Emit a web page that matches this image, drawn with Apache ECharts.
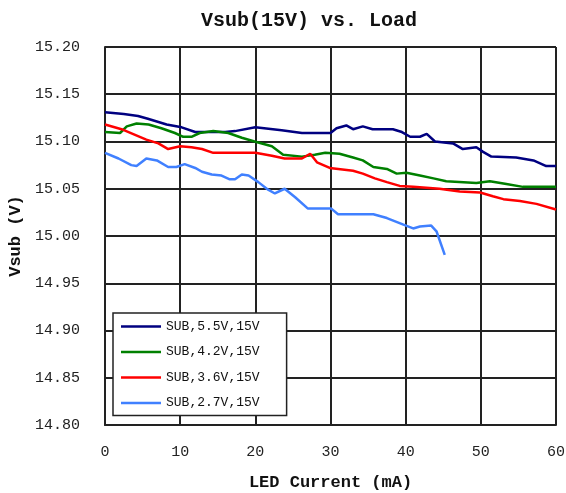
<!DOCTYPE html>
<html>
<head>
<meta charset="utf-8">
<script src="https://cdn.jsdelivr.net/npm/echarts@6/dist/echarts.min.js"></script>
<style>
  html, body { margin: 0; padding: 0; background: #fff; }
  #chart { width: 566px; height: 493px; }
</style>
</head>
<body>
<div id="chart"></div>
<script>
// LED current (mA) and substrate voltage (V) for each supply condition
const names = ['SUB,5.5V,15V', 'SUB,4.2V,15V', 'SUB,3.6V,15V', 'SUB,2.7V,15V'];
const colors = ['#000080', '#008000', '#ff0000', '#4080ff'];

const x55 = [0, 2.5, 4.4, 5.7, 8.2, 10.2, 12, 14, 16, 17.3, 20, 23.5, 26.2, 28.6, 30, 30.8, 32.1, 33, 34.3, 35.6, 38.3, 39.5, 40.6, 41.9, 42.8, 43.9, 46.3, 47.6, 49.4, 50.3, 51.4, 54.7, 57, 58.7, 60];
const v55 = [15.131, 15.129, 15.127, 15.124, 15.118, 15.115, 15.110, 15.110, 15.110, 15.111, 15.115, 15.112, 15.109, 15.109, 15.109, 15.114, 15.117, 15.113, 15.116, 15.113, 15.113, 15.110, 15.105, 15.105, 15.108, 15.100, 15.098, 15.092, 15.094, 15.089, 15.084, 15.083, 15.080, 15.074, 15.074];

const x42 = [0, 2, 2.9, 4.2, 5.8, 7.5, 9.3, 10.4, 11.5, 12.6, 14.4, 16.4, 18.2, 19.9, 22.2, 23.7, 26.2, 27.9, 29.3, 31.2, 33, 34.3, 35.7, 37.5, 38.8, 40.1, 41.9, 43.7, 45.4, 49.4, 51.2, 53.4, 55.6, 60];
const v42 = [15.110, 15.109, 15.116, 15.119, 15.118, 15.114, 15.109, 15.105, 15.105, 15.109, 15.111, 15.109, 15.104, 15.100, 15.095, 15.086, 15.084, 15.086, 15.088, 15.087, 15.083, 15.080, 15.073, 15.071, 15.066, 15.067, 15.064, 15.061, 15.058, 15.056, 15.058, 15.055, 15.052, 15.052];

const x36 = [0, 2.2, 4, 5.5, 7.1, 8.4, 10, 11.5, 12.9, 14.4, 20, 22.2, 23.9, 26.2, 27.3, 28.2, 29.9, 33, 34.3, 35.9, 37.5, 39.2, 41, 44.5, 47.2, 49.9, 51.6, 53, 55.2, 57.4, 60];
const v36 = [15.118, 15.113, 15.107, 15.102, 15.098, 15.092, 15.095, 15.094, 15.092, 15.088, 15.088, 15.085, 15.082, 15.082, 15.087, 15.078, 15.072, 15.069, 15.066, 15.061, 15.057, 15.053, 15.052, 15.050, 15.047, 15.046, 15.042, 15.039, 15.037, 15.034, 15.028];

const x27 = [0, 1.8, 3.5, 4.2, 5.5, 6.9, 8.4, 9.5, 10.6, 12, 12.9, 14.2, 15.5, 16.6, 17.3, 18.2, 19.1, 20.4, 21.7, 22.6, 23.9, 25.3, 27, 30.1, 31, 35.7, 37.5, 39.7, 41, 41.9, 43.4, 44.1, 45.2];
const v27 = [15.088, 15.082, 15.075, 15.074, 15.082, 15.080, 15.073, 15.073, 15.076, 15.072, 15.068, 15.065, 15.064, 15.060, 15.060, 15.065, 15.064, 15.057, 15.049, 15.045, 15.050, 15.041, 15.029, 15.029, 15.023, 15.023, 15.019, 15.012, 15.008, 15.010, 15.011, 15.005, 14.980];

const xs = [x55, x42, x36, x27];
const vs = [v55, v42, v36, v27];

const mono = '"Liberation Mono", "DejaVu Sans Mono", monospace';

const chart = echarts.init(document.getElementById('chart'), null, { renderer: 'canvas' });

chart.setOption({
  backgroundColor: '#ffffff',
  animation: false,
  title: {
    text: 'Vsub(15V) vs. Load',
    left: 304,
    textAlign: 'center',
    top: 6,
    textStyle: { fontFamily: mono, fontWeight: 'bold', fontSize: 20, color: '#111' }
  },
  grid: { left: 105, right: 10, top: 47, bottom: 68, containLabel: false, outerBoundsMode: 'none' },
  legend: {
    orient: 'vertical',
    left: 113,
    top: 313,
    backgroundColor: '#ffffff',
    borderColor: '#222',
    borderWidth: 1.5,
    padding: [7, 27, 6, 8],
    icon: 'rect',
    itemWidth: 40,
    itemHeight: 2.5,
    itemGap: 12.5,
    textStyle: { fontFamily: mono, fontSize: 13, color: '#111' },
    data: names
  },
  xAxis: {
    type: 'value',
    min: 0,
    max: 60,
    interval: 10,
    name: 'LED Current (mA)',
    nameLocation: 'middle',
    nameGap: 49,
    nameTextStyle: { fontFamily: mono, fontWeight: 'bold', fontSize: 17, color: '#111' },
    axisLine: { show: true, onZero: false, lineStyle: { color: '#222', width: 2 } },
    axisTick: { show: false },
    axisLabel: { margin: 20, fontFamily: mono, fontSize: 15, color: '#222' },
    splitLine: { show: true, lineStyle: { color: '#222', width: 2 } }
  },
  yAxis: {
    type: 'value',
    min: 14.8,
    max: 15.2,
    interval: 0.05,
    name: 'Vsub (V)',
    nameLocation: 'middle',
    nameGap: 72,
    nameRotate: 90,
    nameTextStyle: { fontFamily: mono, fontWeight: 'bold', fontSize: 17, color: '#111' },
    axisLine: { show: true, lineStyle: { color: '#222', width: 2 } },
    axisTick: { show: false },
    axisLabel: {
      margin: 25,
      fontFamily: mono,
      fontSize: 15,
      color: '#222',
      formatter: v => v.toFixed(2)
    },
    splitLine: { show: true, lineStyle: { color: '#222', width: 2 } }
  },
  series: names.map((n, i) => ({
    name: n,
    type: 'line',
    symbol: 'none',
    color: colors[i],
    lineStyle: { color: colors[i], width: 2.5 },
    data: xs[i].map((x, k) => [x, vs[i][k]])
  }))
});
</script>
</body>
</html>
